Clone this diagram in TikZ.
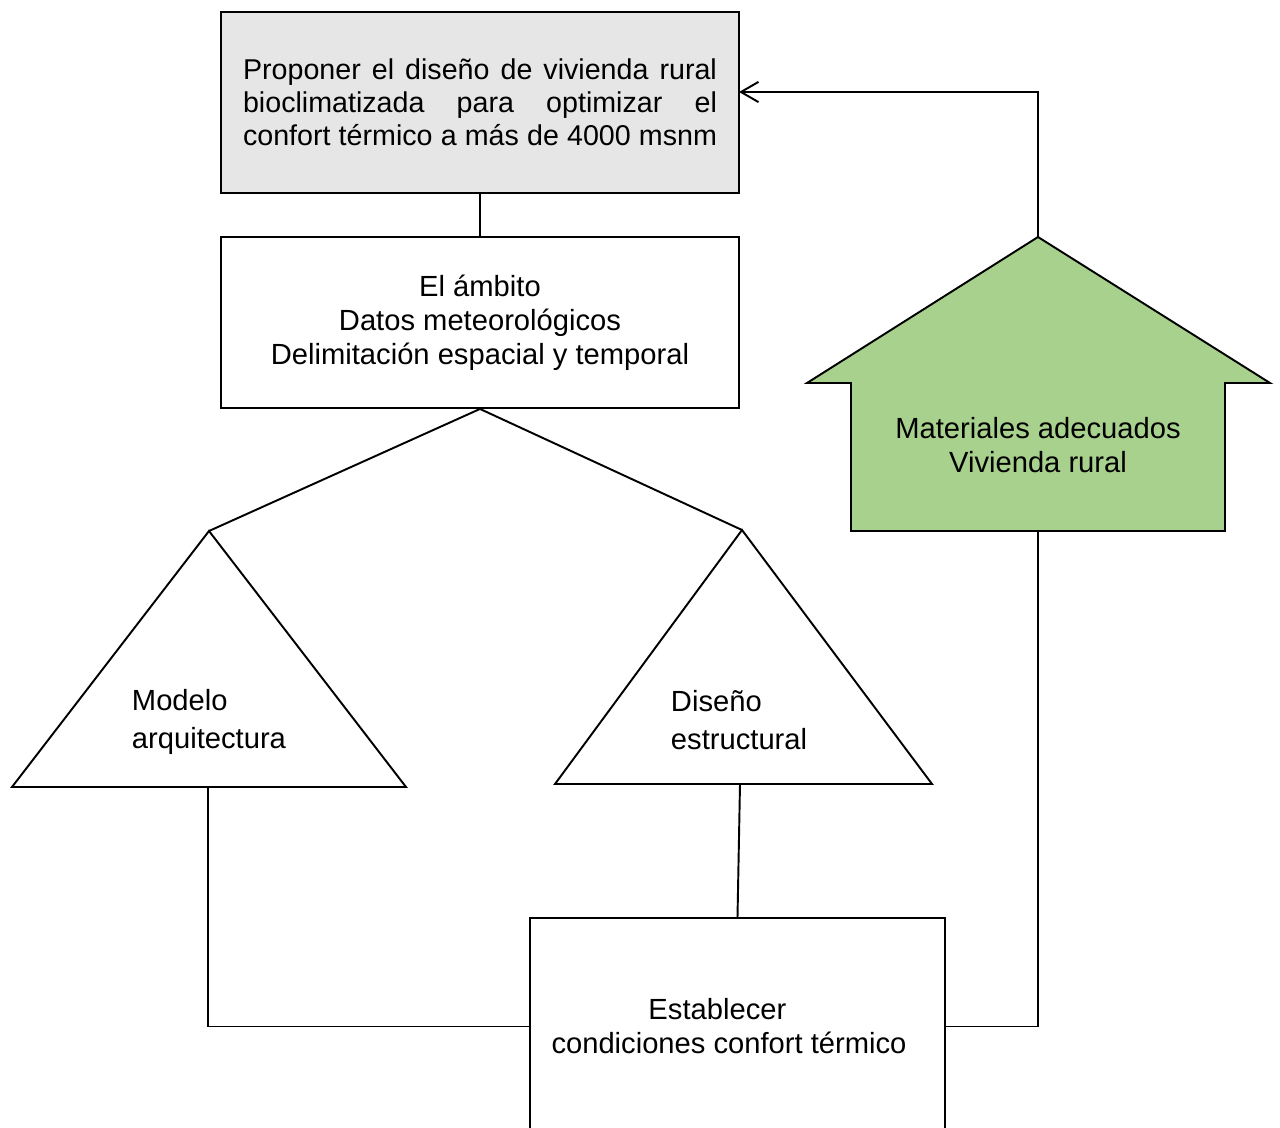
\documentclass[tikz,border=0pt]{standalone}
\usepackage{fontspec}
\setmainfont{Liberation Sans}
\usetikzlibrary{arrows.meta}
\definecolor{boxgray}{HTML}{E7E6E6}
\definecolor{housegreen}{HTML}{A9D18E}
\newcommand{\fullline}[1]{{\spaceskip=0pt\xspaceskip=0pt\makebox[9.48cm][s]{#1}}}

\begin{document}
\begin{tikzpicture}[x=0.02cm,y=-0.02cm,line width=1.1pt,
    every node/.style={font=\fontsize{16.6}{19.4}\selectfont},
    box/.style={draw,rectangle,minimum width=10.36cm,inner sep=0pt,align=center},
    tri label/.style={anchor=west,align=left,inner sep=0pt,
      font=\fontsize{16.6}{21.5}\selectfont},
    back arrow/.style={-{Straight Barb[length=10pt,width=11.5pt]}}]
  \path[use as bounding box,clip] (0,0) rectangle (1280,1128);
  % boxes
  \node[box,fill=boxgray,minimum height=3.62cm,align=left,
    font=\fontsize{16.3}{18.8}\selectfont] (goal) at (480,102.5)
    {\fullline{Proponer el diseño de vivienda rural}\\
     \fullline{bioclimatizada para optimizar el}\\
     \fullline{confort térmico a más de 4000 msnm}};
  \node[box,minimum height=3.42cm] (scope) at (480,322.5)
    {El ámbito\\Datos meteorológicos\\Delimitación espacial y temporal};
  \node[box,minimum width=8.3cm,minimum height=4.34cm] (conf) at (737.5,1026.5) {};
  \node[align=left,inner sep=0pt] (conftext) at (729,1026.5)
    {\hspace*{1.94cm}Establecer\\condiciones confort térmico};
  % triangles
  \coordinate (arqtop) at (209,531);
  \coordinate (arqbase) at (208,787);
  \draw (arqtop) -- (406,787) -- (12,787) -- cycle;
  \node[tri label] (arq) at (131,722) {Modelo\\arquitectura};
  \coordinate (esttop) at (742,530);
  \coordinate (estbase) at (740,784);
  \draw (esttop) -- (932,784) -- (555,784) -- cycle;
  \node[tri label] (est) at (670,720) {Diseño\\estructural};
  % house
  \coordinate (housetop) at (1038,237);
  \coordinate (housebase) at (1038,531);
  \draw[fill=housegreen] (housetop) -- (1270,383) -- (1225,383) -- (1225,531)
    -- (851,531) -- (851,383) -- (807,383) -- cycle;
  \node[align=center] (house) at (1038,445) {Materiales adecuados\\Vivienda rural};
  \coordinate (goalin) at (739,92);
  % links
  \draw (goal) -- (scope);
  \draw (scope.south) -- (arqtop);
  \draw (scope.south) -- (esttop);
  \draw (arqbase) |- (conf.west);
  \draw (estbase) -- (conf.north);
  \draw (conf.east) -| (housebase);
  \draw[back arrow] (housetop) |- (goalin);
\end{tikzpicture}
\end{document}
